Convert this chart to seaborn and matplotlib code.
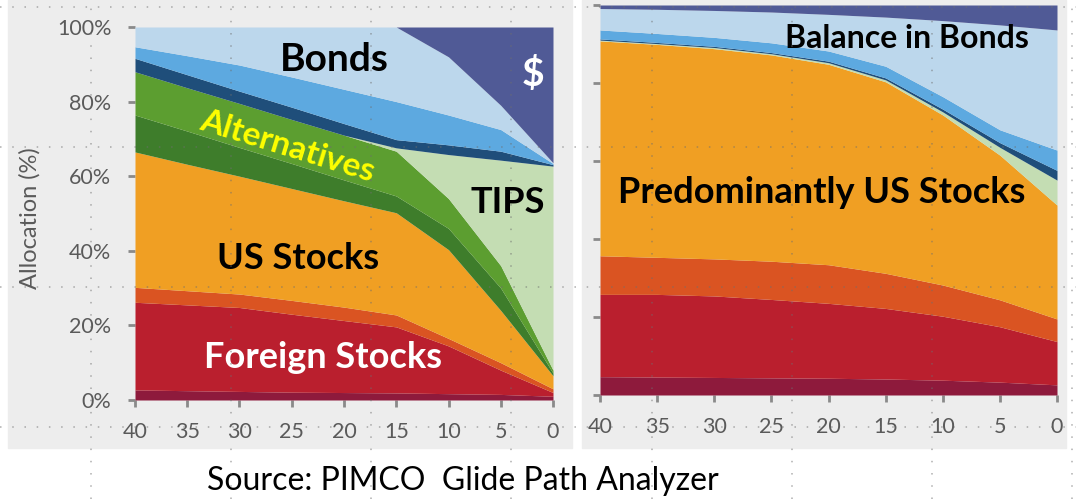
import matplotlib
matplotlib.use("Agg")
import matplotlib.pyplot as plt
from matplotlib.patches import Rectangle
from matplotlib.lines import Line2D
import seaborn as sns

# years before retirement
years = [40, 35, 30, 25, 20, 15, 10, 5, 0]
y_ticks = [0, 20, 40, 60, 80, 100]
y_labels = ["0%", "20%", "40%", "60%", "80%", "100%"]

# left chart: upper edge of each band (% allocation), from bottom to top
left_maroon = [2.7, 2.5, 2.3, 2.1, 2.0, 1.9, 1.7, 1.5, 1.0]
left_red = [26.2, 25.5, 24.8, 23.0, 21.3, 19.6, 14.5, 8.0, 2.0]
left_orange_red = [30.2, 29.3, 28.4, 26.7, 24.9, 22.8, 16.5, 10.0, 3.0]
left_us = [66.5, 63.2, 60.0, 56.7, 53.4, 50.2, 40.3, 24.0, 6.5]
left_alt_dark = [76.4, 72.1, 67.7, 63.4, 59.0, 54.7, 46.0, 30.0, 7.2]
left_alt = [88.0, 83.7, 79.5, 75.2, 71.0, 66.7, 54.0, 36.0, 8.0]
left_tips = [88.0, 83.7, 79.5, 75.2, 71.0, 67.6, 65.8, 64.3, 62.7]
left_navy = [91.6, 87.2, 82.8, 78.5, 74.1, 69.8, 68.4, 66.7, 63.1]
left_mid_blue = [94.7, 92.3, 89.8, 86.6, 83.3, 80.0, 76.4, 72.5, 63.4]
left_bonds = [100, 100, 100, 100, 100, 100, 92.0, 79.0, 63.6]
left_cash = [100, 100, 100, 100, 100, 100, 100, 100, 100]

# right chart
right_maroon = [4.7, 4.6, 4.5, 4.4, 4.3, 4.1, 3.8, 3.3, 2.6]
right_red = [25.8, 25.8, 25.4, 24.5, 23.5, 22.2, 20.2, 17.5, 13.7]
right_orange_red = [35.7, 35.3, 34.9, 34.3, 33.4, 31.2, 28.2, 24.4, 19.5]
right_us = [90.8, 89.9, 88.8, 87.2, 84.8, 80.3, 71.8, 61.5, 48.7]
right_tips = [91.0, 90.1, 89.1, 87.5, 85.2, 80.8, 72.6, 63.5, 55.1]
right_navy = [91.3, 90.4, 89.4, 87.8, 85.6, 81.3, 73.3, 64.7, 57.6]
right_mid_blue = [93.6, 92.7, 91.7, 90.3, 88.2, 84.3, 76.5, 68.0, 62.8]
right_bonds = [99.1, 98.9, 98.6, 98.2, 97.6, 96.9, 96.0, 94.9, 93.6]
right_cash = [100, 100, 100, 100, 100, 100, 100, 100, 100]

colors = ["#8E1A3C", "#BA1F2E", "#DA5422", "#F09F23", "#3E7D2B", "#5C9E30",
          "#C4DDB3", "#1F4E7A", "#5DA9E0", "#BCD7EC", "#505A96"]
left_layers = [left_maroon, left_red, left_orange_red, left_us, left_alt_dark,
               left_alt, left_tips, left_navy, left_mid_blue, left_bonds, left_cash]
right_layers = [right_maroon, right_red, right_orange_red, right_us, None, None,
                right_tips, right_navy, right_mid_blue, right_bonds, right_cash]

sns.set_theme(style="white")
plt.rcParams["font.family"] = ["Lato", "DejaVu Sans"]

W, H = 1076, 499
fig = plt.figure(figsize=(W / 100, H / 100), dpi=100)


def fx(px):
    return px / W


def fy(py):
    return 1 - py / H


# grey slide panels
fig.add_artist(Rectangle((fx(8), fy(448)), fx(564), 448 / H, color="#EDEDED", zorder=-2))
fig.add_artist(Rectangle((fx(582), fy(448)), fx(484), 448 / H, color="#EDEDED", zorder=-2))

ax1 = fig.add_axes([fx(135), fy(400), fx(418), 373 / H])
ax2 = fig.add_axes([fx(600), fy(395), fx(457), 390 / H])


def draw_bands(ax, layers):
    lower = [0] * len(years)
    for top, col in zip(layers, colors):
        if top is None:
            continue
        ax.fill_between(years, lower, top, color=col, lw=0)
        lower = top


draw_bands(ax1, left_layers)
draw_bands(ax2, right_layers)

for ax in (ax1, ax2):
    ax.set_facecolor("none")
    ax.set_xlim(40, 0)
    ax.set_ylim(0, 100)
    ax.set_xticks(years)
    ax.set_xticklabels([str(y) for y in years])
    ax.set_yticks(y_ticks)
    sns.despine(ax=ax, left=True, bottom=True)
    ax.tick_params(axis="both", which="both", direction="out", length=5, width=2,
                   color="#8A8A8A", labelcolor="#5A5A5A", labelsize=15.5,
                   left=True, bottom=True)
    ax.tick_params(axis="x", pad=11)
    ax.tick_params(axis="y", pad=12)

ax1.set_yticklabels(y_labels)
ax2.set_yticklabels([""] * len(y_ticks))

fig.text(fx(30), fy(218), "Allocation (%)", rotation=90, ha="center", va="center",
         fontsize=17, color="#5A5A5A")

# band labels
ax1.text(20.9, 91.2, "Bonds", ha="center", va="center", fontsize=28,
         fontweight="bold", color="black")
ax1.text(1.9, 87.5, "$", ha="center", va="center", fontsize=28,
         fontweight="bold", color="white")
ax1.text(25.4, 68.0, "Alternatives", ha="center", va="center", fontsize=24,
         fontweight="bold", color="#FFFF00", rotation=-17)
ax1.text(4.3, 53.0, "TIPS", ha="center", va="center", fontsize=26,
         fontweight="bold", color="black")
ax1.text(24.4, 38.0, "US Stocks", ha="center", va="center", fontsize=26,
         fontweight="bold", color="black")
ax1.text(22.0, 11.5, "Foreign Stocks", ha="center", va="center", fontsize=26,
         fontweight="bold", color="white")

ax2.text(13.1, 91.5, "Balance in Bonds", ha="center", va="center", fontsize=23,
         fontweight="bold", color="black")
ax2.text(20.6, 52.0, "Predominantly US Stocks", ha="center", va="center",
         fontsize=26, fontweight="bold", color="black")

fig.text(fx(463), fy(481), "Source: PIMCO  Glide Path Analyzer", ha="center",
         va="center", fontsize=23, color="black")

# dotted slide guides
for gx in [91, 231, 371, 511, 652, 792, 932, 1072]:
    fig.add_artist(Line2D([fx(gx), fx(gx)], [0, 1], color="#6E6E6E", lw=1.1,
                          ls=(0, (1, 7)), alpha=0.55, zorder=5))
for gy in [7, 147, 287, 427]:
    fig.add_artist(Line2D([0, 1], [fy(gy), fy(gy)], color="#6E6E6E", lw=1.1,
                          ls=(0, (1, 7)), alpha=0.55, zorder=5))

fig.savefig("out.png", dpi=100)
